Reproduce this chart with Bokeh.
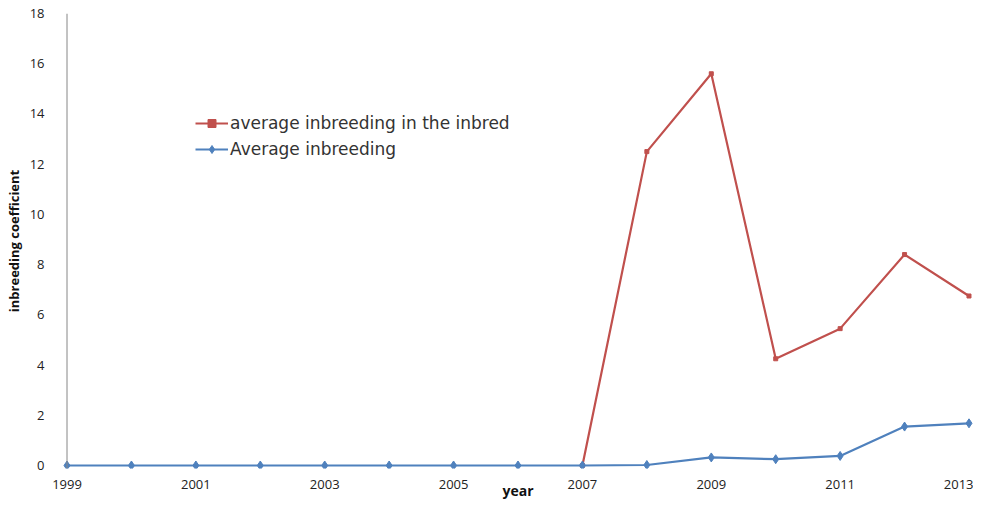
from bokeh.plotting import figure
from bokeh.models import Range1d, FixedTicker, Legend, LegendItem, Span
from bokeh.embed import file_html
from bokeh.resources import INLINE

years = list(range(1999, 2014))
avg_inbreeding = [0, 0, 0, 0, 0, 0, 0, 0, 0, 0.02, 0.32, 0.25, 0.38, 1.55, 1.68]
inbred_years = list(range(2007, 2014))
avg_inbreeding_inbred = [0, 12.5, 15.6, 4.25, 5.45, 8.4, 6.75]
x_ticks = [1999, 2001, 2003, 2005, 2007, 2009, 2011, 2013]
y_ticks = [0, 2, 4, 6, 8, 10, 12, 14, 16, 18]

FONT = "Open Sans"
p = figure(width=973, height=502, output_backend="svg", toolbar_location=None,
           x_range=Range1d(1998.93, 2013.07), y_range=Range1d(-0.12, 18.0),
           min_border_left=62, min_border_right=0, min_border_top=13, min_border_bottom=33)
p.outline_line_color = None
p.xgrid.grid_line_color = None
p.ygrid.grid_line_color = None

# y axis line drawn at the first year, as in the original
p.add_layout(Span(location=x_ticks[0], dimension="height", line_color="#868686", line_width=1))

red = p.line(inbred_years, avg_inbreeding_inbred, line_color="#C0504D", line_width=2.2)
red_m = p.scatter(inbred_years, avg_inbreeding_inbred, marker="square", size=4,
                  fill_color="#C0504D", line_color="#C0504D")
blue = p.line(years, avg_inbreeding, line_color="#4F81BD", line_width=2.2)
blue_m = p.scatter(years, avg_inbreeding, marker="diamond", size=9,
                   fill_color="#4F81BD", line_color="#4F81BD")

p.xaxis.ticker = FixedTicker(ticks=x_ticks)
p.yaxis.ticker = FixedTicker(ticks=y_ticks)
for ax in (p.xaxis[0], p.yaxis[0]):
    ax.axis_line_color = None
    ax.major_tick_line_color = None
    ax.minor_tick_line_color = None
    ax.major_tick_out = 0
    ax.major_tick_in = 0
    ax.minor_tick_out = 0
    ax.minor_tick_in = 0
    ax.major_label_text_font = FONT
    ax.major_label_text_font_size = "13px"
    ax.major_label_text_color = "#222222"
    ax.axis_label_text_font = FONT
    ax.axis_label_text_font_style = "bold"
    ax.axis_label_text_color = "#111111"
p.yaxis.axis_label = "inbreeding coefficient"
p.yaxis.axis_label_text_font_size = "13px"
p.yaxis.major_label_standoff = 18
p.yaxis.axis_label_standoff = 4
p.xaxis.axis_label = "year"
p.xaxis.axis_label_text_font_size = "14px"
p.xaxis.major_label_standoff = 11
p.xaxis.axis_label_standoff = -11

legend = Legend(items=[
    LegendItem(label="average inbreeding in the inbred", renderers=[red, red_m]),
    LegendItem(label="Average inbreeding", renderers=[blue, blue_m]),
], location=(133, 309))
legend.border_line_color = None
legend.background_fill_alpha = 0
legend.label_text_font = "DejaVu Sans"
legend.label_text_font_size = "17px"
legend.label_text_color = "#333333"
legend.glyph_width = 33
legend.glyph_height = 20
legend.label_height = 20
legend.spacing = 6
legend.padding = 0
legend.margin = 0
legend.label_standoff = 2
p.add_layout(legend, "center")

open("out.html", "w").write(file_html(p, INLINE))
